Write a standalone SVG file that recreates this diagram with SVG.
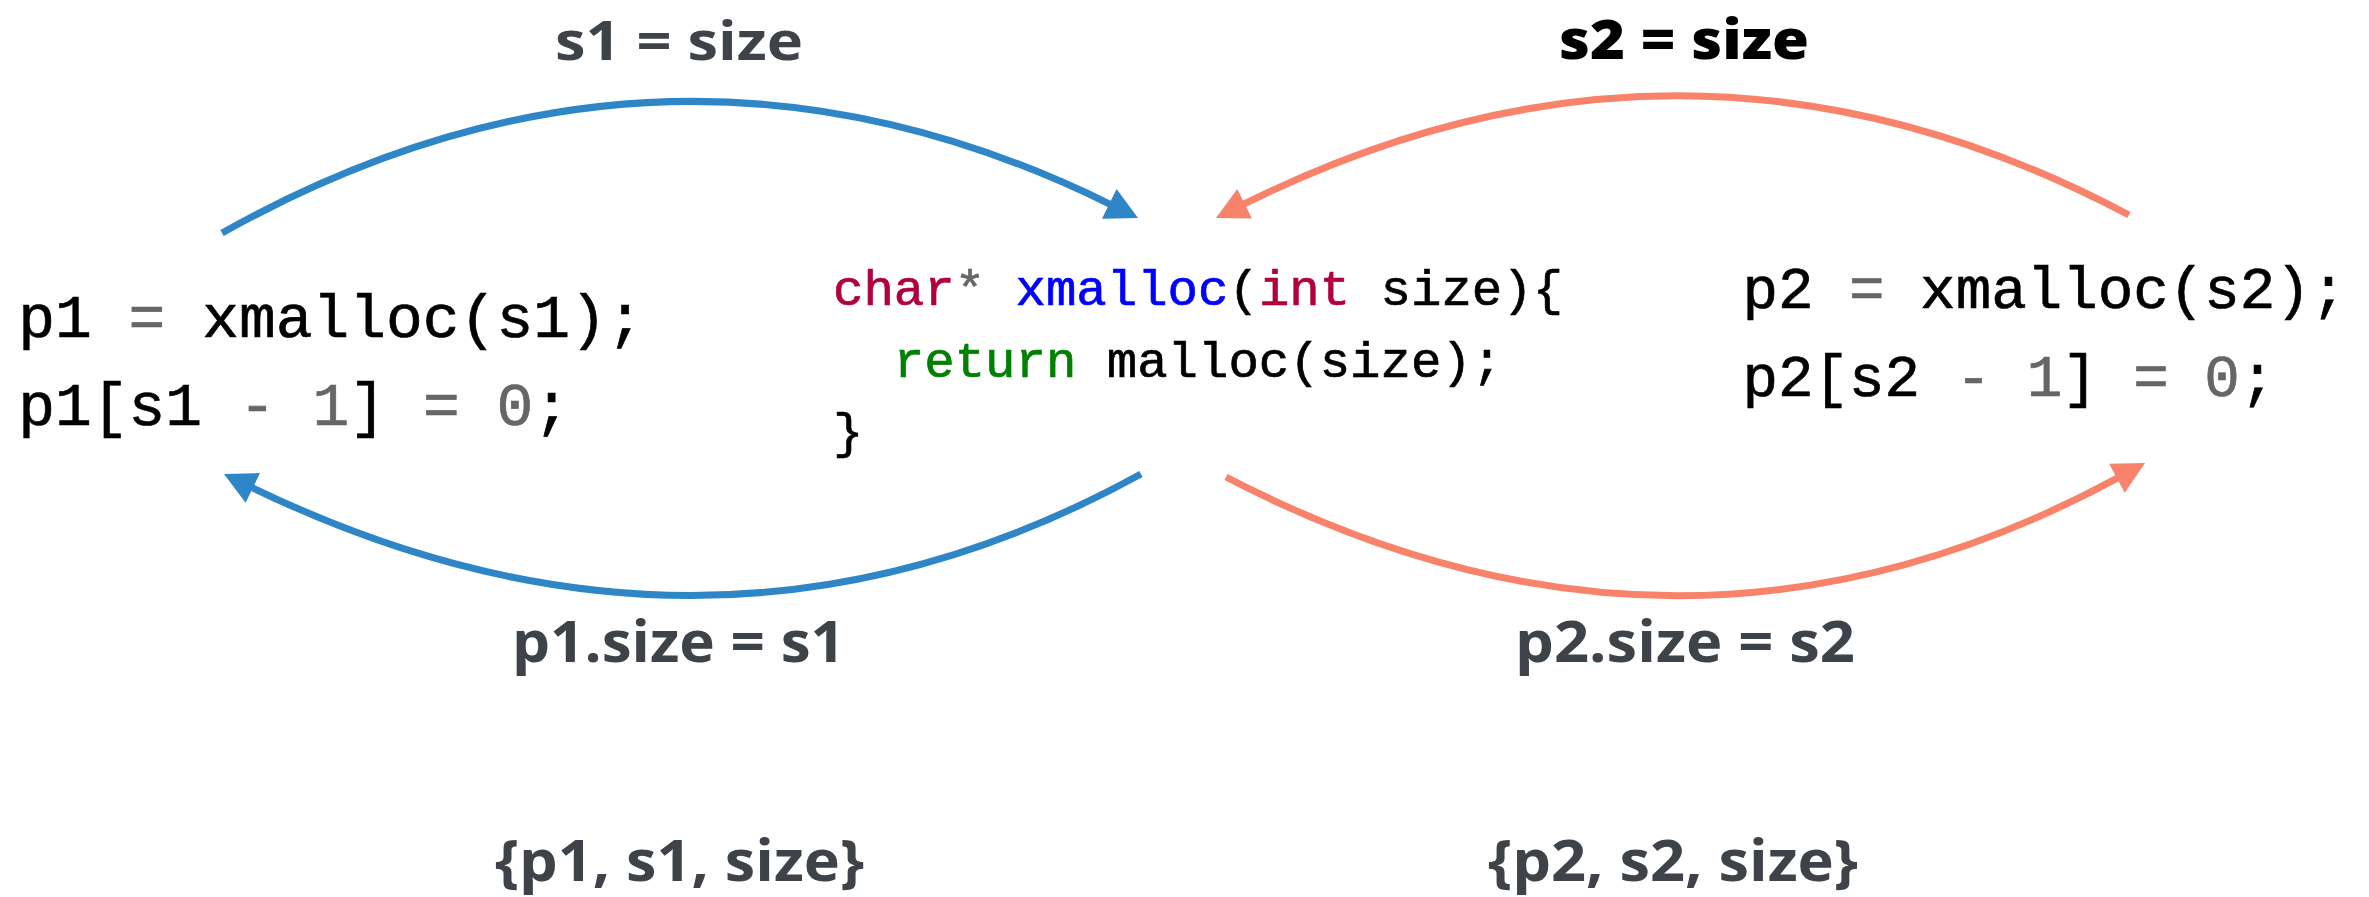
<svg xmlns="http://www.w3.org/2000/svg" width="2369" height="897" viewBox="0 0 2369 897">
  <style>
    .code { font-family: "Liberation Mono", "Courier New", monospace; fill: #000; stroke: #000; stroke-width: 0.7px; }
    .o  { fill: #666666; stroke: #666666; }
    .kt { fill: #b00040; stroke: #b00040; }
    .nf { fill: #0000ff; stroke: #0000ff; }
    .kw { fill: #008000; stroke: #008000; }
    .lbl { font-family: "Open Sans", "Liberation Sans", sans-serif; font-weight: 700; font-size: 58px; fill: #3d4349; }
    .top { font-size: 54px; }
    .strong { font-weight: 800; fill: #000; }
    .blue { fill: none; stroke: #2e86c7; stroke-width: 7; }
    .salmon { fill: none; stroke: #f8836a; stroke-width: 7; }
  </style>
  <defs>
    <marker id="headBlue" markerUnits="userSpaceOnUse" viewBox="-2 -18 36 36" refX="0" refY="0" markerWidth="36" markerHeight="36" orient="auto">
      <path d="M-1,-16.5 L31,0 L-1,16.5 z" fill="#2e86c7"/>
    </marker>
    <marker id="headSalmon" markerUnits="userSpaceOnUse" viewBox="-2 -18 36 36" refX="0" refY="0" markerWidth="36" markerHeight="36" orient="auto">
      <path d="M-1,-16.5 L31,0 L-1,16.5 z" fill="#f8836a"/>
    </marker>
  </defs>

  <rect width="2369" height="897" fill="#fff"/>

  <!-- caller 1 -->
  <g id="caller1">
    <text class="code" font-size="61.3" x="18.2" y="337">p1 <tspan class="o">=</tspan> xmalloc(s1);</text>
    <text class="code" font-size="61.3" x="18.2" y="425">p1[s1 <tspan class="o">-</tspan> <tspan class="o">1</tspan>] <tspan class="o">=</tspan> <tspan class="o">0</tspan>;</text>
  </g>

  <!-- callee -->
  <g id="xmalloc">
    <text class="code" font-size="50.7" x="833" y="305"><tspan class="kt">char</tspan><tspan class="o">*</tspan> <tspan class="nf">xmalloc</tspan>(<tspan class="kt">int</tspan> size){</text>
    <text class="code" font-size="50.7" x="893.8" y="377"><tspan class="kw">return</tspan> malloc(size);</text>
    <text class="code" font-size="50.7" x="833" y="448">}</text>
  </g>

  <!-- caller 2 -->
  <g id="caller2">
    <text class="code" font-size="59.2" x="1742.5" y="308">p2 <tspan class="o">=</tspan> xmalloc(s2);</text>
    <text class="code" font-size="59.2" x="1742.5" y="396">p2[s2 <tspan class="o">-</tspan> <tspan class="o">1</tspan>] <tspan class="o">=</tspan> <tspan class="o">0</tspan>;</text>
  </g>

  <!-- call / return edges -->
  <g id="connectors">
    <path class="blue" d="M222,233 Q665,-15 1110.2,204.3" marker-end="url(#headBlue)"/>
    <path class="blue" d="M1141,474 Q712,710 251.9,487.5" marker-end="url(#headBlue)"/>
    <path class="salmon" d="M2129,215 Q1690,-18 1243.7,204.2" marker-end="url(#headSalmon)"/>
    <path class="salmon" d="M1226,477 Q1682,714 2117.8,477.8" marker-end="url(#headSalmon)"/>
  </g>

  <!-- edge labels -->
  <g id="labels">
    <text class="lbl top" x="555" y="60" textLength="248" lengthAdjust="spacingAndGlyphs">s1 = size</text>
    <text class="lbl top strong" x="1559" y="58.5" textLength="250" lengthAdjust="spacingAndGlyphs">s2 = size</text>
    <text class="lbl" x="512" y="662" textLength="333" lengthAdjust="spacingAndGlyphs">p1.size = s1</text>
    <text class="lbl" x="1515" y="662" textLength="340" lengthAdjust="spacingAndGlyphs">p2.size = s2</text>
  </g>

  <!-- contexts -->
  <g id="contexts">
    <text class="lbl" x="495" y="881" textLength="369" lengthAdjust="spacingAndGlyphs">{p1, s1, size}</text>
    <text class="lbl" x="1488" y="881" textLength="370" lengthAdjust="spacingAndGlyphs">{p2, s2, size}</text>
  </g>
</svg>
